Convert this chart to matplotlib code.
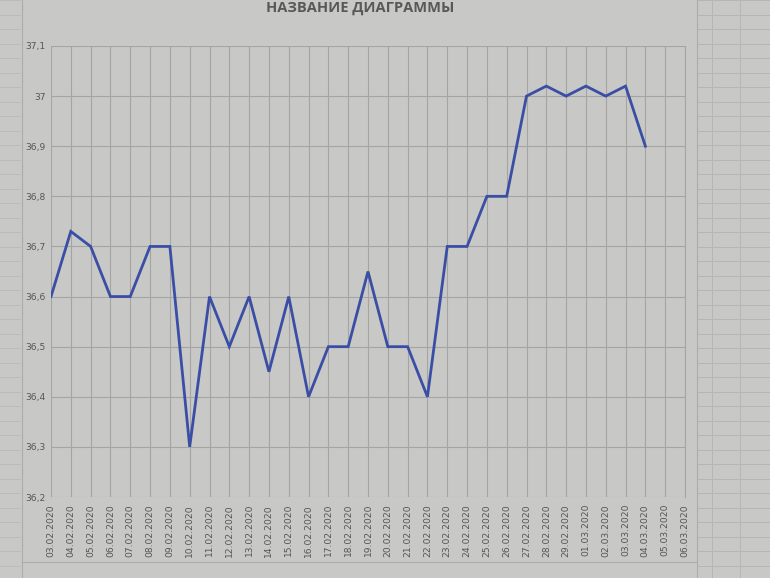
import matplotlib
matplotlib.use("Agg")
import matplotlib.pyplot as plt
from matplotlib.lines import Line2D
import numpy as np

dates = ["03.02.2020", "04.02.2020", "05.02.2020", "06.02.2020", "07.02.2020",
         "08.02.2020", "09.02.2020", "10.02.2020", "11.02.2020", "12.02.2020",
         "13.02.2020", "14.02.2020", "15.02.2020", "16.02.2020", "17.02.2020",
         "18.02.2020", "19.02.2020", "20.02.2020", "21.02.2020", "22.02.2020",
         "23.02.2020", "24.02.2020", "25.02.2020", "26.02.2020", "27.02.2020",
         "28.02.2020", "29.02.2020", "01.03.2020", "02.03.2020", "03.03.2020",
         "04.03.2020", "05.03.2020", "06.03.2020"]
temps = [36.6, 36.73, 36.7, 36.6, 36.6, 36.7, 36.7, 36.3, 36.6, 36.5,
         36.6, 36.45, 36.6, 36.4, 36.5, 36.5, 36.65, 36.5, 36.5, 36.4,
         36.7, 36.7, 36.8, 36.8, 37.0, 37.02, 37.0, 37.02, 37.0, 37.02,
         36.9, None, None]
yticks = [36.2, 36.3, 36.4, 36.5, 36.6, 36.7, 36.8, 36.9, 37.0, 37.1]
ytick_labels = ["36,2", "36,3", "36,4", "36,5", "36,6", "36,7", "36,8", "36,9", "37", "37,1"]
title = "НАЗВАНИЕ ДИАГРАММЫ"

bg = "#c8c8c6"
fig = plt.figure(figsize=(7.7, 5.78), dpi=100, facecolor=bg)

# spreadsheet grid around the chart (background paper)
for yy in np.arange(0, 578, 14.5):
    fig.add_artist(Line2D([697/770, 1], [1 - yy/578]*2, color="#b6b6b4", lw=0.7, transform=fig.transFigure))
for xx in [712, 740]:
    fig.add_artist(Line2D([xx/770]*2, [0, 1], color="#b6b6b4", lw=0.7, transform=fig.transFigure))
for yy in np.arange(0, 578, 14.5):
    fig.add_artist(Line2D([0, 20/770], [1 - yy/578]*2, color="#b9b9b7", lw=0.6, transform=fig.transFigure))
# chart frame
fig.add_artist(Line2D([22/770, 22/770], [0, 1], color="#acacaa", lw=0.8, transform=fig.transFigure))
fig.add_artist(Line2D([697/770, 697/770], [0, 1], color="#acacaa", lw=0.8, transform=fig.transFigure))
fig.add_artist(Line2D([22/770, 697/770], [1 - 562/578]*2, color="#acacaa", lw=0.8, transform=fig.transFigure))

ax = fig.add_axes([51/770, 1 - 497/578, (685 - 51)/770, (497 - 46)/578])
ax.set_facecolor(bg)

x = np.arange(len(dates))
y = np.array([np.nan if v is None else v for v in temps], dtype=float)
ax.plot(x, y, color="#3a4ea6", lw=2.0, solid_joinstyle="miter", zorder=3)

ax.set_xlim(0, len(dates) - 1)
ax.set_ylim(36.2, 37.1)
ax.set_yticks(yticks)
ax.set_yticklabels(ytick_labels)
ax.set_xticks(x)
ax.set_xticklabels(dates, rotation=90)
ax.tick_params(axis="both", length=0, labelsize=6.6, labelcolor="#555555")
ax.tick_params(axis="x", pad=5)
ax.tick_params(axis="y", pad=4)
ax.grid(True, color="#a4a4a2", lw=0.8)
for s in ax.spines.values():
    s.set_visible(False)
ax.spines["right"].set_visible(True)
ax.spines["right"].set_color("#a4a4a2")
ax.spines["right"].set_linewidth(0.8)

fig.text(360/770, 1 - 8/578, title, ha="center", va="center", fontsize=10.5,
         fontweight="bold", color="#585858", family="Open Sans")

fig.savefig("out.png", dpi=100, facecolor=bg)
